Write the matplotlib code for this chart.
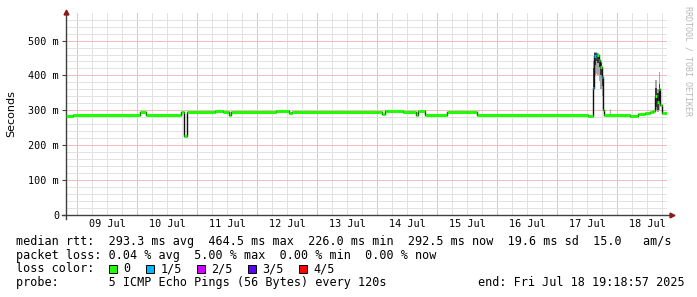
import numpy as np
import matplotlib
matplotlib.use("Agg")
import matplotlib.pyplot as plt

# time in days since 09 Jul 00:00, rtt in ms
t_start = -0.183
t_end = 9.833

med_t = [-0.183, -0.067, 1.05, 1.145, 1.733, 1.783, 1.833, 2.30, 2.428, 2.533,
         2.567, 3.317, 3.538, 3.583, 5.078, 5.133, 5.162, 5.428, 5.645, 5.683,
         5.795, 6.162, 6.662, 8.517, 8.592, 8.617, 8.642, 8.667, 8.692, 8.717,
         8.742, 8.767, 8.783, 9.217, 9.35, 9.467, 9.55, 9.60, 9.633, 9.667,
         9.692, 9.717, 9.742]
med_v = [284, 286.5, 294, 287, 295, 226, 295, 298, 295, 286,
         295, 299, 293, 295, 289, 297, 299, 295, 286, 297,
         287, 295, 287, 284, 365, 455, 462, 458, 445, 425,
         395, 300, 287, 285, 289, 292, 296, 299, 342, 325,
         360, 315, 293]
med_loss = [0, 0, 0, 0, 0, 0, 0, 0, 0, 0,
            0, 0, 0, 0, 0, 0, 0, 0, 0, 0,
            0, 0, 0, 0, 1, 1, 1, 0, 0, 0,
            1, 0, 0, 0, 0, 0, 0, 0, 0, 0,
            0, 0, 0]

# smoke (ping spread)
smoke_t = [8.592, 8.617, 8.642, 8.667, 8.692, 8.717, 8.742, 8.767, 8.783,
           9.633, 9.667, 9.692, 9.717, 9.742]
light_lo = [300, 400, 405, 400, 385, 360, 340, 288, np.nan, 300, 295, 300, 295, np.nan]
light_hi = [440, 467, 467, 465, 460, 440, 410, 320, np.nan, 387, 360, 410, 360, np.nan]
dark_lo = [330, 430, 440, 435, 425, 400, 370, 292, np.nan, 310, 300, 320, 300, np.nan]
dark_hi = [420, 463, 465, 462, 455, 435, 405, 310, np.nan, 365, 350, 375, 340, np.nan]
blip_t = [8.883]
blip_hi = [305]

loss_labels = ["0", "1/5", "2/5", "3/5", "4/5"]
loss_colors = ["#20ff00", "#00b8ff", "#d000ff", "#5a00ff", "#ff0000"]

day_labels = ["09 Jul", "10 Jul", "11 Jul", "12 Jul", "13 Jul",
              "14 Jul", "15 Jul", "16 Jul", "17 Jul", "18 Jul"]
y_ticks = [0, 100, 200, 300, 400, 500]
y_labels = ["0", "100 m", "200 m", "300 m", "400 m", "500 m"]

legend_lines = [
    "median rtt:  293.3 ms avg  464.5 ms max  226.0 ms min  292.5 ms now  19.6 ms sd  15.0   am/s",
    "packet loss: 0.04 % avg  5.00 % max  0.00 % min  0.00 % now",
]
probe_text = "probe:       5 ICMP Echo Pings (56 Bytes) every 120s"
end_text = "end: Fri Jul 18 19:18:57 2025"

W, H = 697, 297
fig = plt.figure(figsize=(W / 100, H / 100), dpi=100)
fig.patch.set_facecolor("white")

def px(x, y):
    return x / W, 1 - y / H

ax = fig.add_axes([66 / W, 1 - 215 / H, 601 / W, 202 / H])
ax.set_xlim(t_start, t_end)
ax.set_ylim(0, 579)
for s in ax.spines.values():
    s.set_visible(False)

# grid (light solid lines standing in for rrdtool's 1px dots)
for d in np.arange(0.0, t_end, 0.25):
    major = abs(d - round(d)) < 1e-6
    ax.axvline(d, color="#f0bcbc" if major else "#e2e2e2", lw=0.72, zorder=0, snap=True)
for v in range(20, 580, 20):
    ax.axhline(v, color="#f0bcbc" if v % 100 == 0 else "#e2e2e2", lw=0.72, zorder=0, snap=True)

# smoke
ax.fill_between(smoke_t, light_lo, light_hi, step="post", color="#a8a8a8", lw=0, zorder=2)
ax.fill_between(smoke_t, dark_lo, dark_hi, step="post", color="#3a3a3a", lw=0, zorder=3)
ax.vlines(blip_t, 287, blip_hi, color="#a8a8a8", lw=0.8, zorder=2)

# median: black step + loss-coloured segments
st = med_t + [t_end]
sv = med_v + [med_v[-1]]
ax.step(st, sv, where="post", color="#101010", lw=1.0, zorder=4)
for i in range(len(med_t)):
    ax.hlines(med_v[i], st[i], st[i + 1], color=loss_colors[med_loss[i]],
              lw=2.2, zorder=5)

# ticks
ax.set_xticks([])
ax.set_yticks(y_ticks)
ax.set_yticklabels(y_labels, family="DejaVu Sans Mono", fontsize=7.3)
ax.tick_params(axis="y", length=3, width=0.8, color="#404040", pad=2)
for i, lab in enumerate(day_labels):
    ax.text(i + 0.5, -27, lab, ha="center", va="center", family="DejaVu Sans Mono",
            fontsize=7.3, clip_on=False)

# axes lines with arrows
ax.plot([0, 0], [-0.02, 1.0], transform=ax.transAxes, color="#404040", lw=1.0, clip_on=False)
ax.plot([-0.007, 1.005], [0, 0], transform=ax.transAxes, color="#404040", lw=1.0, clip_on=False)
ax.plot([0], [1.005], "^", transform=ax.transAxes, color="#8b1a1a", ms=3.5, clip_on=False)
ax.plot([1.008], [0], ">", transform=ax.transAxes, color="#8b1a1a", ms=3.5, clip_on=False)

fig.text(*px(11, 114), "Seconds", rotation=90, ha="center", va="center",
         family="DejaVu Sans", fontsize=8)
fig.text(*px(688, 6), "RRDTOOL / TOBI OETIKER", rotation=270, ha="center", va="top",
         family="DejaVu Sans Mono", fontsize=6, color="#b8b8b8")

mono = dict(family="DejaVu Sans Mono", fontsize=8.5, va="center", ha="left")
fig.text(*px(16, 241.7), legend_lines[0], **mono)
fig.text(*px(16, 255), legend_lines[1], **mono)
fig.text(*px(16, 282.7), probe_text, **mono)
fig.text(*px(478, 282.7), end_text, **mono)

fig.text(*px(16, 269), "loss color:", **mono)
box_x = [108.5, 146, 197, 247.5, 298.5]
for bx, lab, c in zip(box_x, loss_labels, loss_colors):
    fig.patches.append(matplotlib.patches.Rectangle(px(bx, 273), 8 / W, 8 / H,
                       transform=fig.transFigure, facecolor=c, edgecolor="black", lw=0.7))
    fig.text(*px(bx + 14.5, 269), lab, **mono)

fig.savefig("out.png", dpi=100)
